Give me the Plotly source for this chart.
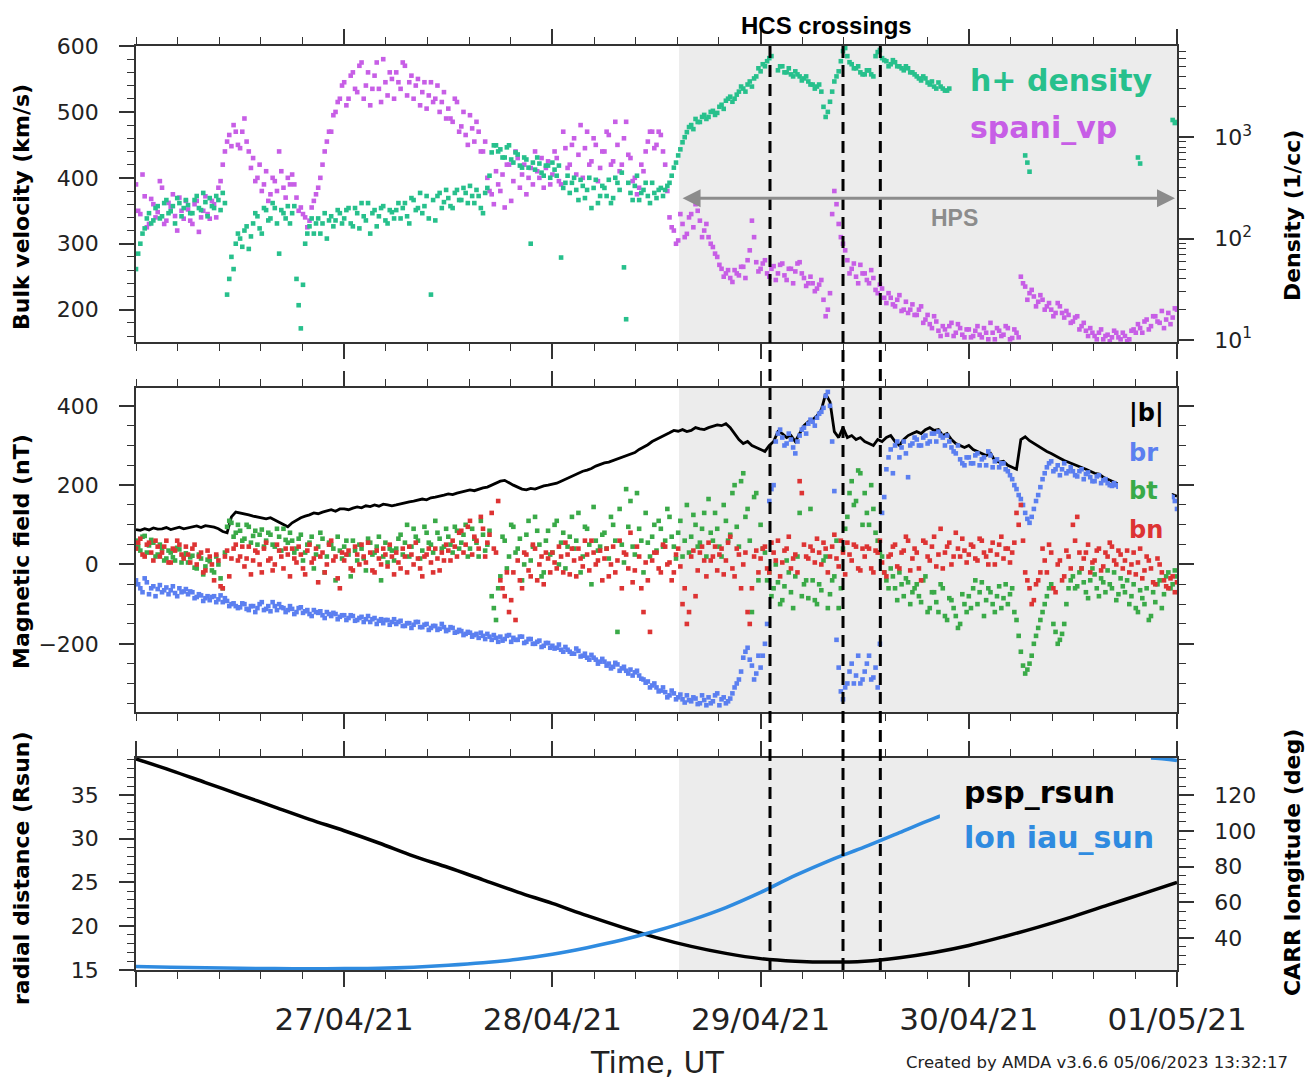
import pandas as pd
import plotly.graph_objects as go

# ---------------- time bases ----------------
t_fine = pd.date_range("2021-04-26 00:00", periods=241, freq="30min")
t_half = pd.date_range("2021-04-26 00:15", periods=240, freq="30min")
t_orbit = pd.date_range("2021-04-26 00:00", periods=31, freq="4h")

# ---------------- plasma (top panel) ----------------
spani_vp = [
    390, 345, 372, 330, 360, 348, 385, 335, 356, 342, 370, 338,
    352, 330, 365, 340, 372, 338, 360, 385, 420, 455, 448, 470,
    445, 490, 440, 430, 400, 380, 410, 375, 395, 440, 385, 400,
    405, 370, 355, 340, 335, 365, 385, 420, 455, 470, 500, 520,
    545, 520, 560, 530, 575, 540, 510, 555, 535, 580, 525, 550,
    560, 535, 570, 545, 520, 550, 530, 505, 545, 520, 500, 530,
    505, 485, 515, 478, 465, 495, 455, 470, 440, 400, 375, 410,
    380, 355, 420, 395, 430, 405, 375, 415, 440, 400, 385, 425,
    405, 430, 390, 445, 420, 460, 435, 400, 470, 425, 450, 415,
    440, 465, 425, 450, 420, 485, 430, 400, 385, 410, 455, 470,
    450, 465, 420, 340, 320, 305, 330, 315, 345, 360, 335, 320,
    310, 295, 280, 262, 255, 248, 260, 252, 265, 275, 335, 272,
    262, 275, 250, 266, 255, 270, 245, 262, 258, 272, 248, 240,
    240, 232, 245, 190, 225, 380, 330, 300, 275, 262, 250, 268,
    255, 240, 248, 225, 232, 210, 218, 205, 222, 200, 195, 208,
    192, 205, 185, 178, 190, 168, 175, 162, 180, 165, 172, 158,
    170, 160, 175, 158, 165, 180, 155, 168, 162, 172, 157, 165,
    250, 235, 225, 220, 212, 215, 205, 200, 195, 205, 188, 192,
    182, 190, 175, 168, 172, 160, 165, 155, 162, 158, 165, 155,
    160, 155, 170, 178, 165, 185, 175, 190, 180, 172, 195, 188,
    200,
]
spani_vp_mid = [
    350, 405, 325, 368, 340, 395, 330, 362, 375, 320, 350, 365,
    335, 360, 318, 350, 345, 365, 340, 395, 440, 465, 480, 450,
    470, 455, 415, 395, 420, 390, 365, 400, 380, 410, 370, 390,
    390, 350, 345, 325, 355, 375, 400, 440, 470, 495, 515, 540,
    510, 555, 535, 570, 520, 560, 535, 575, 515, 545, 560, 520,
    545, 575, 525, 555, 540, 510, 545, 525, 515, 540, 515, 490,
    490, 520, 470, 500, 450, 475, 485, 440, 455, 380, 360, 390,
    405, 420, 365, 440, 385, 420, 400, 390, 410, 430, 415, 390,
    440, 395, 470, 415, 450, 405, 480, 445, 420, 460, 395, 440,
    470, 420, 485, 410, 460, 435, 395, 375, 420, 440, 470, 445,
    470, 440, 380, 325, 300, 345, 310, 340, 325, 350, 310, 330,
    300, 285, 268, 250, 260, 242, 255, 265, 248, 290, 310, 258,
    270, 255, 262, 245, 268, 252, 262, 240, 270, 255, 236, 250,
    228, 238, 215, 200, 345, 360, 310, 290, 255, 270, 240, 255,
    245, 260, 230, 238, 218, 225, 208, 215, 198, 212, 200, 192,
    200, 180, 192, 172, 182, 160, 170, 175, 160, 178, 162, 170,
    158, 168, 162, 172, 155, 165, 172, 160, 175, 155, 170, 158,
    240, 215, 230, 205, 222, 200, 210, 190, 210, 195, 198, 180,
    188, 170, 180, 160, 165, 155, 170, 160, 152, 168, 158, 165,
    152, 168, 165, 172, 182, 170, 190, 182, 198, 185, 178, 202,
]

h_density = [
    50, 89, 126, 178, 151, 209, 166, 240, 186, 141, 224, 200,
    214, 178, 263, 191, 229, 251, 200, 240, 282, 28, 66, 89,
    100, 120, 79, 141, 166, 112, 191, 158, 200, 71, 178, 209,
    178, 40, 13, 89, 132, 112, 158, 141, 100, 166, 151, 178,
    158, 200, 132, 178, 224, 151, 112, 191, 166, 209, 141, 182,
    191, 158, 224, 141, 240, 200, 178, 263, 28, 151, 282, 229,
    251, 200, 302, 240, 282, 331, 224, 263, 178, 316, 708, 832,
    759, 631, 832, 562, 676, 501, 603, 89, 479, 550, 417, 525,
    562, 417, 65, 355, 282, 398, 240, 331, 302, 200, 380, 263,
    316, 380, 251, 355, 447, 16, 282, 331, 240, 302, 263, 355,
    251, 316, 302, 355, 501, 661, 891, 1122, 1318, 1514, 1413, 1660,
    1585, 1820, 1738, 2089, 2291, 2512, 2399, 2818, 3020, 3311, 3162, 3981,
    4467, 5012, 6026, None, 4571, 5012, 4365, 4169, 4467, 3981, 3802, 3548,
    3311, 3162, 2818, 1585, 2239, 3548, 4467, 7079, 6310, 5248, 4786, 4365,
    4169, 4571, 3981, 6918, 6026, 5623, 5248, 5495, 5012, 4571, 4786, 4365,
    3981, 3631, 3802, 3311, 3162, 3467, 3020, 2884, None, None, None, None,
    None, None, None, None, None, None, None, None, None, None, None, None,
    None, 661, 457, None, None, None, None, None, None, None, None, None,
    None, None, None, None, None, None, None, None, None, None, None, None,
    None, None, None, 631, None, None, None, None, None, None, None, 1479,
    1413,
]
h_density_mid = [
    71, 112, 158, 141, 200, 158, 224, 178, 209, 251, 166, 240,
    178, 240, 200, 282, 166, 209, 263, 191, 224, 40, 50, 112,
    83, 132, 105, 178, 126, 200, 151, 224, 141, 191, 158, 141,
    209, 22, 35, 112, 158, 141, 112, 178, 151, 132, 191, 141,
    191, 141, 200, 126, 166, 224, 178, 132, 200, 151, 191, 158,
    224, 200, 166, 251, 191, 282, 209, 158, 240, 263, 200, 302,
    209, 282, 240, 316, 224, 263, 302, 200, 282, 417, 832, 724,
    631, 794, 603, 708, 525, 631, 501, 562, 631, 447, 525, 398,
    479, 525, 316, 417, 355, 302, 380, 251, 398, 316, 224, 331,
    263, 224, 398, 302, 52, 355, 240, 417, 282, 355, 224, 282,
    302, 263, 331, 417, 562, 759, 1000, 1259, 1202, 1413, 1585, 1514,
    1778, 1660, 1995, 1905, 2399, 2239, 2630, 3162, 2818, 3548, 3802, 4786,
    5248, 5623, 6310, None, 5012, 4365, 4786, 3981, 4169, 3631, 3981, 3311,
    3020, 3311, 1995, 1778, 2818, 3981, 5623, 7586, 5495, 4786, 5012, 4169,
    4571, 4169, 6310, 7244, 5754, 5012, 5754, 5012, 4786, 5012, 4365, 4169,
    3802, 3981, 3467, 3548, 3020, 3162, 2884, 3020, None, None, None, None,
    None, None, None, None, None, None, None, None, None, None, None, None,
    None, 562, None, None, None, None, None, None, None, None, None, None,
    None, None, None, None, None, None, None, None, None, None, None, None,
    None, None, None, 550, None, None, None, None, None, None, None, 1380,
]

# ---------------- magnetic field (middle panel, nT) ----------------
b_mag = [
    88, 86, 90, 87, 92, 89, 90, 93, 88, 91, 94, 90,
    92, 95, 97, 93, 98, 96, 94, 90, 83, 80, 120, 132,
    130, 127, 125, 122, 120, 118, 115, 118, 112, 108, 100, 95,
    105, 112, 118, 122, 125, 130, 128, 132, 135, 138, 134, 140,
    140, 138, 142, 145, 143, 148, 146, 150, 147, 152, 150, 148,
    150, 153, 155, 158, 160, 162, 165, 163, 168, 170, 172, 175,
    178, 176, 180, 183, 185, 188, 186, 190, 193, 195, 200, 205,
    210, 212, 205, 200, 195, 190, 188, 192, 190, 195, 198, 200,
    202, 205, 210, 215, 220, 225, 230, 235, 238, 242, 248, 252,
    256, 258, 262, 266, 270, 274, 278, 282, 290, 295, 302, 310,
    315, 320, 325, 332, 338, 336, 340, 335, 338, 345, 342, 340,
    345, 348, 352, 350, 355, 345, 330, 315, 305, 310, 300, 295,
    290, 285, 300, 310, 335, 330, 320, 325, 310, 330, 350, 360,
    365, 375, 390, 430, 410, 335, 320, 345, 320, 325, 315, 320,
    310, 305, 300, 315, 310, 320, 325, 310, 300, 315, 325, 330,
    335, 330, 340, 345, 338, 340, 325, 330, 315, 305, 300, 295,
    300, 290, 285, 280, 275, 280, 262, 258, 260, 250, 245, 240,
    315, 322, 312, 305, 298, 290, 285, 280, 275, 268, 262, 258,
    252, 248, 244, 240, 235, 230, 228, 220, 215, 210, 205, 200,
    198, 196, 194, 192, 190, 188, 186, 184, 182, 180, 178, 176,
    172,
]

b_r = [
    -40, -60, -35, -75, -55, -62, -70, -58, -65, -72, -60, -68,
    -75, -70, -82, -78, -85, -90, -80, -88, -95, -92, -100, -105,
    -108, -100, -115, -105, -110, -95, -112, -118, -105, -100, -110, -115,
    -112, -120, -108, -118, -125, -115, -122, -128, -120, -130, -125, -132,
    -128, -135, -130, -140, -132, -138, -145, -135, -142, -148, -140, -145,
    -150, -142, -155, -148, -152, -145, -158, -150, -160, -155, -162, -158,
    -165, -160, -170, -168, -175, -172, -178, -185, -180, -175, -190, -185,
    -182, -188, -178, -185, -190, -182, -195, -188, -200, -192, -205, -198,
    -205, -210, -215, -208, -220, -225, -218, -230, -235, -228, -240, -245,
    -245, -250, -258, -252, -262, -268, -265, -272, -280, -290, -295, -305,
    -310, -318, -322, -330, -325, -335, -340, -330, -345, -338, -350, -342,
    -335, -345, -325, -340, -350, -338, -310, -290, -235, -210, -255, -275,
    -260, -200, 160, 200, 330, 320, 305, 315, 280, 325, 345, 355,
    360, 370, 385, 425, 400, 185, -260, -340, -300, -250, -280, -300,
    -270, -230, -285, -310, 130, 240, 290, 300, 270, 310, 220, 305,
    315, 300, 325, 310, 330, 335, 320, 325, 295, 280, 265, 250,
    270, 255, 280, 265, 250, 275, 260, 245, 255, 235, 215, 190,
    165, 130, 105, 140, 175, 215, 245, 260, 240, 225, 255, 235,
    235, 222, 240, 228, 220, 210, 225, 212, 205, 198, 200, 198,
    195, 190, 192, 188, 185, 186, 183, 180, 178, 175, 172, 170,
    140,
]
b_r_mid = [
    -50, -70, -45, -60, -80, -52, -65, -75, -55, -80, -70, -62,
    -68, -85, -75, -92, -80, -82, -95, -78, -85, -105, -98, -110,
    -98, -112, -105, -120, -100, -115, -105, -95, -115, -108, -120, -105,
    -125, -110, -122, -115, -130, -120, -118, -135, -125, -122, -138, -128,
    -140, -128, -142, -135, -145, -130, -138, -150, -138, -140, -152, -138,
    -145, -155, -148, -160, -145, -158, -152, -165, -155, -165, -150, -168,
    -158, -172, -165, -178, -170, -182, -175, -172, -188, -182, -178, -195,
    -192, -180, -195, -190, -182, -198, -188, -200, -195, -208, -198, -210,
    -212, -202, -220, -215, -225, -212, -232, -225, -240, -235, -250, -238,
    -255, -262, -248, -268, -258, -275, -280, -268, -288, -298, -310, -300,
    -320, -310, -335, -318, -340, -328, -348, -342, -335, -352, -330, -355,
    -350, -330, -355, -335, -345, -325, -300, -270, -220, -240, -290, -230,
    -230, -150, 190, 310, 340, 300, 330, 295, 310, 340, 330, 365,
    350, 380, 395, 435, 310, -190, -320, -310, -270, -300, -230, -290,
    -250, -290, -260, -200, 170, 270, 230, 310, 295, 280, 300, 320,
    300, 320, 305, 330, 310, 325, 300, 310, 285, 300, 255, 270,
    255, 275, 250, 270, 285, 245, 265, 255, 240, 225, 200, 175,
    150, 115, 120, 160, 195, 230, 255, 235, 250, 240, 230, 245,
    225, 235, 215, 232, 210, 222, 205, 215, 200, 205, 196, 194,
    192, 188, 190, 186, 184, 182, 180, 178, 176, 174, 172, 160,
]

b_t = [
    60, 35, 72, 48, 55, 25, 40, 15, 30, 10, 38, 20,
    5, 22, -10, 15, -5, 8, -20, 0, -60, 95, 105, 80,
    85, 65, 95, 72, 50, 88, 60, 75, 45, 70, 90, 55,
    60, 40, 75, 30, 55, -10, 45, 65, 20, 50, -40, 35,
    45, 25, 60, 10, 40, -15, 55, 30, 70, 20, 5, 35,
    40, 75, 55, 20, 90, 60, 35, 80, 50, 110, 65, 45,
    70, 30, 85, 55, 100, 40, 65, 20, 75, 50, -80, -140,
    -30, 60, 20, 95, 40, -40, 75, 10, 120, 50, -20, 85,
    30, 110, 55, -10, 70, 40, 130, 20, 90, -50, 60, 45,
    80, 15, 100, -170, 50, 190, 160, 25, 90, -20, 55, 70,
    35, 90, 60, 120, 45, 80, 20, 150, 70, 100, 55, 130,
    165, 60, 90, 20, 110, 75, 200, 45, 230, 140, -120, 180,
    100, 30, -20, -60, -45, -90, 10, -70, -30, 130, -50, -85,
    -40, -100, -65, 20, -75, -30, -110, 40, 120, 210, 160, 230,
    180, 100, 140, 60, 20, -40, -10, -60, -20, -80, -45, -70,
    -50, -95, -30, -110, -70, -120, -60, -140, -90, -130, -150, -100,
    -80, -60, -100, -45, -90, -70, -120, -55, -85, -100, -60, -140,
    -220, -275, -250, -200, -160, -120, -80, -50, -170, -190, -150, -60,
    -30, -55, -10, -70, -40, -25, -80, -45, -15, -60, -90, -35,
    -70, -100, -50, -120, -85, -60, -130, -95, -40, -75, -20, -50,
    -30,
]
b_t_mid = [
    45, 70, 30, 62, 20, 50, 10, 35, 18, 42, 5, 28,
    18, -8, 25, -25, 12, -15, 20, -35, 30, 110, 70, 100,
    60, 100, 55, 85, 75, 45, 80, 50, 90, 35, 62, 80,
    30, 65, 10, 50, 70, 25, 80, -20, 55, 40, 70, 15,
    60, -30, 35, 50, 15, 65, 25, 45, -40, 55, 40, 10,
    65, 25, 100, 45, 70, 15, 95, 55, 30, 80, 40, 90,
    50, 95, 40, 75, 20, 90, 55, 110, 35, 85, -110, -60,
    70, -10, 100, 30, 65, 0, 110, 45, 85, -30, 60, 25,
    100, 0, 80, 45, 120, 60, -20, 95, 50, 145, 35, 75,
    40, 120, 60, 140, 5, 95, 45, 180, 60, 130, 20, 100,
    110, 45, 140, 70, 15, 110, 60, 30, 125, 45, 90, 20,
    80, 130, 45, 150, 60, 180, 95, 210, 120, 60, 170, -40,
    40, -40, -80, 0, -100, -55, -20, -110, 20, -80, -40, 140,
    -90, -50, 10, -110, -40, 60, -60, 90, 180, 150, 237, 100,
    130, 200, 80, 30, -20, -60, -30, -90, -50, -35, -100, -60,
    -80, -40, -120, -70, -95, -50, -130, -85, -110, -160, -75, -120,
    -110, -40, -70, -130, -60, -100, -80, -110, -50, -75, -120, -180,
    -255, -265, -230, -180, -140, -100, -60, -150, -200, -175, -100, -40,
    -60, -20, -45, -85, -10, -60, -35, -70, -50, -20, -75, -55,
    -40, -80, -110, -65, -100, -140, -70, -50, -110, -30, -60, -15,
]

b_n = [
    40, 65, 20, 55, 10, 45, 30, 60, 5, 35, 50, 15,
    25, 40, 0, 30, -15, 20, -40, 10, -60, 35, 15, 50,
    20, -5, 45, 10, 30, -20, 55, 15, 0, 35, -10, 25,
    40, 5, 25, -25, 50, 15, -45, 30, 0, 60, 20, -60,
    10, 35, -15, 25, 50, 5, 30, -20, 15, 40, -5, 20,
    30, -10, 20, 45, 0, 15, -30, 25, 5, 40, -15, 10,
    35, 60, 20, 85, 50, 110, 70, 40, 90, 55, 130, 30,
    -40, -80, -120, -20, 10, -60, 25, -30, 40, 0, -50, 15,
    30, -10, 20, 55, -25, 10, 40, -5, 25, 60, 0, 35,
    15, -30, 45, 10, -60, 25, 80, -15, 20, -120, -40, 10,
    30, -20, 45, 5, -20, 40, -100, -150, 20, -80, 30, 10,
    55, 20, -15, 40, 10, 70, -30, 25, 0, -120, -60, 35,
    15, 45, -20, 30, 60, 5, 40, -10, 25, 210, 50, 15,
    35, 65, 0, 40, 20, 75, -5, 30, 55, 10, 45, -15,
    20, 40, -20, 30, 5, -30, 25, 50, -10, 35, 60, 15,
    30, -40, 55, 10, 70, 25, -10, 45, 0, 80, 20, 35,
    25, 45, 10, 60, 20, 35, 0, 50, 15, 40, 30, 130,
    150, -20, -60, -90, -40, 40, -20, 30, -70, 10, -30, 20,
    100, 120, -10, 30, -20, 10, 40, -5, 20, 45, 0, 25,
    10, -20, 30, 5, -35, 20, -10, -50, 0, -40, -60, -30,
    -45,
]
b_n_mid = [
    55, 25, 50, 30, 60, 20, 45, 5, 40, 60, 25, 45,
    5, 50, 20, -20, 35, 0, 25, -55, 20, -30, 40, 10,
    45, 15, -25, 35, 0, 40, 10, -15, 50, 20, 40, -30,
    15, 45, -10, 35, 5, 40, 20, -20, 50, 10, -35, 30,
    25, -10, 45, 0, 20, 55, -15, 35, 0, 25, 50, -25,
    5, 40, -20, 25, 55, -10, 20, 40, -20, 15, 30, 50,
    10, 45, 80, 30, 95, 25, 60, 120, 20, 75, 40, 160,
    -60, -20, -90, -140, -40, 30, -15, 50, -40, 20, 30, -20,
    5, 45, -20, 25, 40, -30, 15, 60, -15, 30, 10, -40,
    40, 0, -20, 60, 30, -10, -45, 45, -60, 5, -170, 30,
    -10, 50, 0, -40, 25, -5, -60, -120, 35, -15, 45, -30,
    10, 45, 25, -25, 55, -10, 40, -60, 30, -150, 20, -20,
    40, -10, 55, 10, -30, 35, 70, 15, -20, 180, 20, 45,
    5, 30, 55, -20, 45, 15, 60, -25, 25, 50, -10, 40,
    45, -10, 35, 60, -20, 20, 45, -5, 30, 70, -15, 40,
    -10, 60, 20, 45, -5, 90, 30, 55, 20, 40, 65, 5,
    50, 15, 65, 30, 0, 55, 25, 70, 40, 5, 55, 100,
    60, -40, -100, -50, -20, 10, 50, -60, 0, -40, 35, -10,
    60, 30, 15, 50, 5, 35, -15, 30, 55, 10, 35, -10,
    35, 0, -25, 40, -15, 10, -45, 15, -20, -55, -35, -70,
]

# ---------------- orbit (bottom panel) ----------------
psp_rsun = [
    39.1, 37.8, 36.4, 35.0, 33.6, 32.2, 30.9, 29.5, 28.0, 26.7,
    25.3, 23.9, 22.6, 21.2, 19.9, 18.7, 17.7, 16.9, 16.3, 16.0,
    15.9, 16.0, 16.4, 17.0, 17.8, 18.8, 19.9, 21.1, 22.4, 23.7,
    25.0,
]
lon_iau_sun = [
    24.0, 23.6, 23.3, 23.0, 22.8, 22.7, 22.8, 23.0, 23.6, 24.6,
    26.0, 28.0, 30.8, 34.5, 38.8, 44.0, 50.0, 57.0, 65.5, 75.0,
    83.5, 91.0, 99.0, 107.0, 113.5, 120.0, 126.0, 131.0, 134.0, 140.6,
    139.4,
]

# ---------------- axis annotations ----------------
day_ticks = pd.date_range("2021-04-26", "2021-05-01", freq="D")
day_labels = ["", "27/04/21", "28/04/21", "29/04/21", "30/04/21", "01/05/21"]
hcs_times = ["2021-04-29 01:05", "2021-04-29 09:30", "2021-04-29 13:48"]
hps_start, hps_end = "2021-04-28 14:36", "2021-05-01 00:00"

X0, X1 = "2021-04-26 00:00", "2021-05-01 00:00"

C_DENS = "#27c08c"
C_VP = "#c75ee6"
C_BR = "#5b7ff0"
C_BT = "#3aaa48"
C_BN = "#dd3333"
C_LON = "#2f8be0"
AX = "#333333"
FONT = "DejaVu Sans"

fig = go.Figure()

mk = dict(symbol="square", size=4.6, line=dict(width=0))
xs = list(t_fine) + list(t_half)

# top panel
fig.add_trace(go.Scatter(x=xs, y=h_density + h_density_mid, mode="markers", xaxis="x", yaxis="y2",
                         marker=dict(color=C_DENS, **mk), showlegend=False))
fig.add_trace(go.Scatter(x=xs, y=spani_vp + spani_vp_mid, mode="markers", xaxis="x", yaxis="y",
                         marker=dict(color=C_VP, **mk), showlegend=False))

# middle panel
fig.add_trace(go.Scatter(x=t_fine, y=b_mag, mode="lines", xaxis="x2", yaxis="y3",
                         line=dict(color="black", width=2.8), showlegend=False))
fig.add_trace(go.Scatter(x=xs, y=b_r + b_r_mid, mode="markers", xaxis="x2", yaxis="y3",
                         marker=dict(color=C_BR, **mk), showlegend=False))
fig.add_trace(go.Scatter(x=xs, y=b_t + b_t_mid, mode="markers", xaxis="x2", yaxis="y3",
                         marker=dict(color=C_BT, **mk), showlegend=False))
fig.add_trace(go.Scatter(x=xs, y=b_n + b_n_mid, mode="markers", xaxis="x2", yaxis="y3",
                         marker=dict(color=C_BN, **mk), showlegend=False))

# bottom panel
fig.add_trace(go.Scatter(x=t_orbit, y=psp_rsun, mode="lines", xaxis="x3", yaxis="y4",
                         line=dict(color="black", width=3.5, shape="spline"), showlegend=False))
fig.add_trace(go.Scatter(x=t_orbit, y=lon_iau_sun, mode="lines", xaxis="x3", yaxis="y5",
                         line=dict(color=C_LON, width=3.5, shape="spline"), showlegend=False))

tickfont = dict(family=FONT, size=22, color="#222")


def xaxis_style(show_labels, anchor):
    return dict(
        type="date", range=[X0, X1], domain=[0, 1], anchor=anchor,
        showline=True, linecolor=AX, linewidth=1.5, mirror="ticks",
        ticks="outside", ticklen=15, tickwidth=1.5, tickcolor=AX,
        tickmode="array", tickvals=day_ticks, ticktext=day_labels,
        showticklabels=show_labels, tickfont=dict(family=FONT, size=31, color="#222"),
        ticklabelstandoff=6,
        showgrid=False, zeroline=False,
        minor=dict(ticks="outside", ticklen=7, tickwidth=1.2, tickcolor=AX,
                   dtick=4.8 * 3600 * 1000, tick0="2021-04-26", showgrid=False),
    )


def yaxis_style(rng, dtick, minor_dtick, side="left", mirror=False):
    return dict(
        range=rng, side=side, showline=True, linecolor=AX, linewidth=1.5, mirror=mirror,
        ticks="outside", ticklen=15, tickwidth=1.5, tickcolor=AX,
        dtick=dtick, tick0=0, tickfont=tickfont, ticklabelstandoff=16,
        showgrid=False, zeroline=False,
        minor=dict(ticks="outside", ticklen=7, tickwidth=1.2, tickcolor=AX,
                   dtick=minor_dtick, tick0=0, showgrid=False),
    )


dens_minor = [m * 10 ** e for e in (0, 1, 2, 3) for m in range(2, 10)]

y_top = yaxis_style([151, 600], 100, 20)
y_top.update(domain=[0.6797, 1.0], anchor="x")
y_dens = dict(
    type="log", range=[0.98, 3.9], overlaying="y", side="right", anchor="x",
    showline=True, linecolor=AX, linewidth=1.5,
    ticks="outside", ticklen=15, tickwidth=1.5, tickcolor=AX,
    tickmode="array", tickvals=[10, 100, 1000],
    ticktext=["10<sup>1</sup>", "10<sup>2</sup>", "10<sup>3</sup>"],
    tickfont=tickfont, ticklabelstandoff=16, showgrid=False, zeroline=False,
    minor=dict(ticks="outside", ticklen=7, tickwidth=1.2, tickcolor=AX,
               tickmode="array", tickvals=dens_minor, showgrid=False),
)
y_mid = yaxis_style([-372, 445], 200, 50, mirror="ticks")
y_mid.update(domain=[0.2792, 0.6299], anchor="x2")
y_bot = yaxis_style([15, 39.2], 5, 1)
y_bot.update(domain=[0.0, 0.2294], anchor="x3")
y_lon = yaxis_style([22, 140.8], 20, 5, side="right")
y_lon.update(overlaying="y4", anchor="x3", tickmode="array", tickvals=[40, 60, 80, 100, 120])

fig.update_layout(
    width=1313, height=1079,
    margin=dict(l=136, r=136, t=46, b=109),
    paper_bgcolor="white", plot_bgcolor="white",
    font=dict(family=FONT, color="#222"),
    xaxis=xaxis_style(False, "y"),
    xaxis2=xaxis_style(False, "y3"),
    xaxis3=xaxis_style(True, "y4"),
    yaxis=y_top, yaxis2=y_dens, yaxis3=y_mid, yaxis4=y_bot, yaxis5=y_lon,
)

# heliospheric plasma sheet interval shading
for xr, yr in (("x", "y domain"), ("x2", "y3 domain"), ("x3", "y4 domain")):
    fig.add_shape(type="rect", xref=xr, yref=yr, x0=hps_start, x1=hps_end, y0=0, y1=1,
                  fillcolor="#ececec", line=dict(width=0), layer="below")

# opaque legend backgrounds, drawn over the data
fig.add_shape(type="rect", xref="x2", yref="y3 domain", x0="2021-04-30 17:12", x1="2021-04-30 23:24",
              y0=0.64, y1=0.99, fillcolor="#ececec", line=dict(width=0), layer="above")
fig.add_shape(type="rect", xref="x3", yref="y4 domain", x0="2021-04-29 20:40", x1="2021-04-30 21:00",
              y0=0.52, y1=1.0, fillcolor="#ececec", line=dict(width=0), layer="above")

# HCS crossings
for t in hcs_times:
    fig.add_shape(type="line", xref="x", yref="paper", x0=t, x1=t, y0=0, y1=1,
                  line=dict(color="black", width=3, dash="12px,7px"), layer="above")

ann = []
ann.append(dict(xref="paper", yref="paper", x=0.663, y=1.0227, text="<b>HCS crossings</b>",
                showarrow=False, xanchor="center", yanchor="middle",
                font=dict(family="Liberation Sans", size=24, color="black")))
# HPS double arrow
ann.append(dict(xref="x", yref="y", x="2021-04-30 23:46", y=369, ax="2021-04-28 14:50", ay=369,
                axref="x", ayref="y", text="", showarrow=True, arrowside="end+start",
                arrowhead=2, startarrowhead=2, arrowsize=1.2, startarrowsize=1.2,
                arrowwidth=3, arrowcolor="#8c8c8c"))
ann.append(dict(xref="x", yref="y", x="2021-04-29 22:24", y=339, text="<b>HPS</b>", showarrow=False,
                font=dict(family="Liberation Sans", size=23, color="#8c8c8c")))


# panel legends
def legend_text(txt, color, x, y, size):
    return dict(xref="paper", yref="paper", x=x, y=y, text=f"<b>{txt}</b>", showarrow=False,
                xanchor="left", yanchor="middle", font=dict(family=FONT, size=size, color=color))


ann += [
    legend_text("h+ density", C_DENS, 0.7992, 0.9632, 30),
    legend_text("spani_vp", C_VP, 0.7992, 0.9113, 30),
    legend_text("|b|", "black", 0.952, 0.6028, 24),
    legend_text("br", C_BR, 0.952, 0.5595, 24),
    legend_text("bt", C_BT, 0.952, 0.5184, 24),
    legend_text("bn", C_BN, 0.952, 0.4762, 24),
    legend_text("psp_rsun", "black", 0.7935, 0.1926, 30),
    legend_text("lon iau_sun", C_LON, 0.7935, 0.1429, 30),
]


# axis titles
def vtitle(txt, x, y):
    return dict(xref="paper", yref="paper", x=x, y=y, text=f"<b>{txt}</b>", showarrow=False,
                textangle=-90, xanchor="center", yanchor="middle",
                font=dict(family=FONT, size=22, color="black"))


ann += [
    vtitle("Bulk velocity (km/s)", -0.1095, 0.8258),
    vtitle("Density (1/cc)", 1.1105, 0.817),
    vtitle("Magnetic field (nT)", -0.1095, 0.4524),
    vtitle("radial distance (Rsun)", -0.1095, 0.1104),
    vtitle("CARR longitude (deg)", 1.1105, 0.1158),
]
ann.append(dict(xref="paper", yref="paper", x=0.5005, y=-0.1006, text="Time, UT", showarrow=False,
                xanchor="center", yanchor="middle", font=dict(family=FONT, size=30, color="#222")))
ann.append(dict(xref="paper", yref="paper", x=1.1085, y=-0.1006,
                text="Created by AMDA v3.6.6 05/06/2023 13:32:17", showarrow=False,
                xanchor="right", yanchor="middle", font=dict(family=FONT, size=16.5, color="#222")))

fig.update_layout(annotations=ann)

fig.write_html("out.html")
